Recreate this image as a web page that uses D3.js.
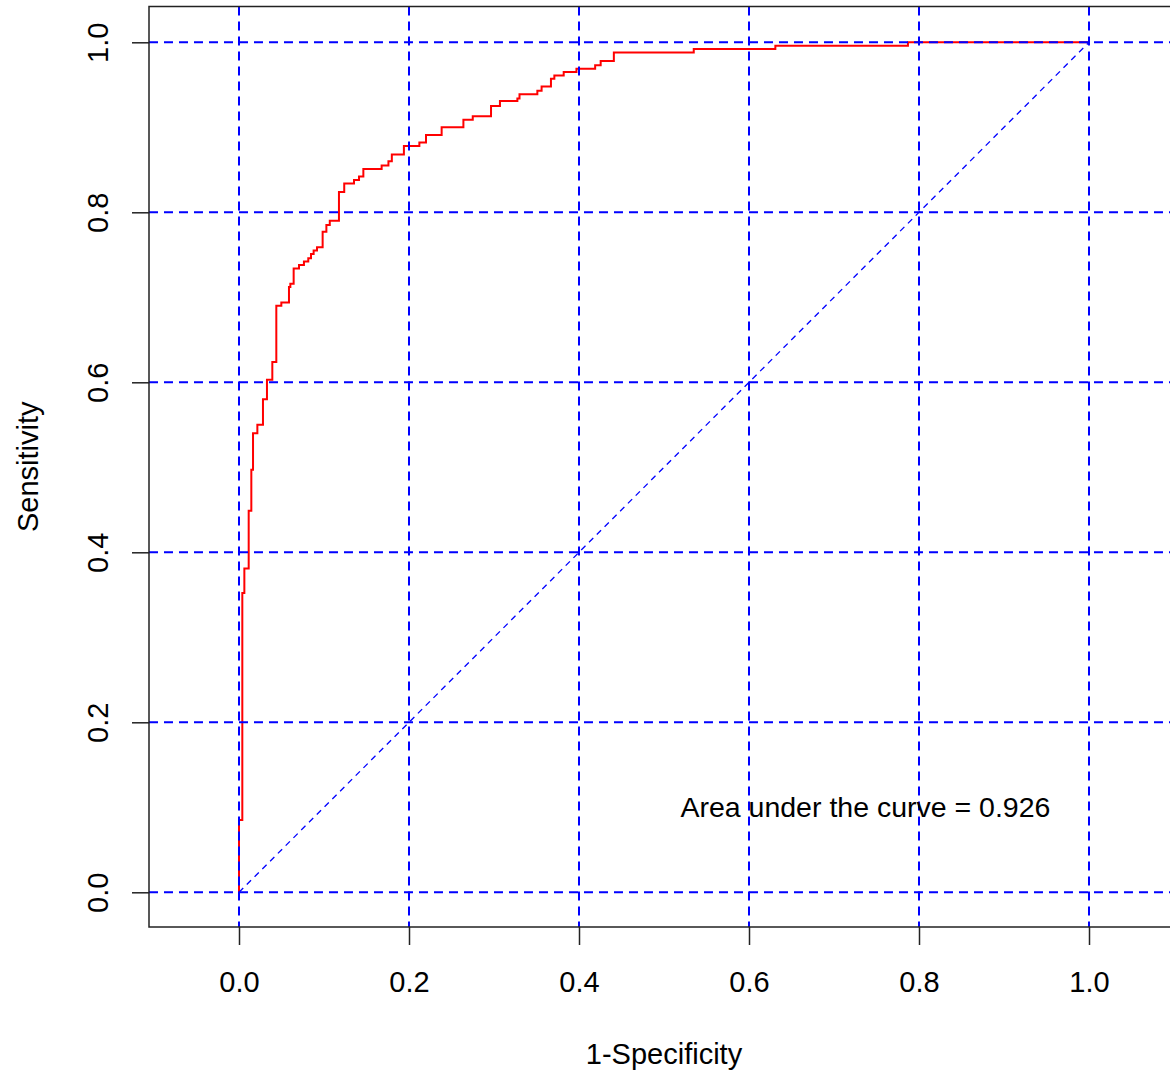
<!DOCTYPE html>
<html>
<head>
<meta charset="utf-8">
<script src="https://cdn.jsdelivr.net/npm/d3@7/dist/d3.min.js"></script>
<style>
  body { margin: 0; background: #fff; }
  svg text { font-family: "Liberation Sans", Arial, sans-serif; fill: #000; }
</style>
</head>
<body>
<div id="chart"></div>
<script>
// ROC points (1-specificity, sensitivity)
var fpr = [0, 0, 0.0039, 0.0063, 0.0114, 0.0145, 0.0165, 0.0216, 0.0282, 0.0329, 0.0392, 0.0439, 0.0498, 0.0588,
           0.0604, 0.0643, 0.0706, 0.0764, 0.0815, 0.0847, 0.0878, 0.0918, 0.0984, 0.1028, 0.1068, 0.1176, 0.1238,
           0.1353, 0.1412, 0.1463, 0.1678, 0.1758, 0.1798, 0.194, 0.2122, 0.22, 0.2384, 0.264, 0.275, 0.2965, 0.307,
           0.3275, 0.33, 0.351, 0.356, 0.367, 0.371, 0.382, 0.397, 0.419, 0.4255, 0.441, 0.535, 0.631, 0.787, 1.0];
var tpr = [0, 0.085, 0.352, 0.381, 0.449, 0.497, 0.540, 0.550, 0.580, 0.603, 0.624, 0.690, 0.694, 0.712,
           0.716, 0.734, 0.738, 0.742, 0.746, 0.751, 0.755, 0.759, 0.777, 0.785, 0.790, 0.824, 0.834,
           0.838, 0.842, 0.851, 0.855, 0.860, 0.868, 0.878, 0.882, 0.891, 0.900, 0.909, 0.913, 0.925, 0.931,
           0.934, 0.939, 0.943, 0.948, 0.957, 0.961, 0.965, 0.969, 0.973, 0.978, 0.988, 0.992, 0.996, 1.0, 1.0];
var ticks = [0, 0.2, 0.4, 0.6, 0.8, 1.0];
var aucLabel = "Area under the curve = 0.926";
var xTitle = "1-Specificity",
    yTitle = "Sensitivity";

var width = 1170, height = 1074;
var box = {left: 149, top: 6.5, right: 1179, bottom: 927};

var x = d3.scaleLinear().domain([0, 1]).range([239, 1089]);
var y = d3.scaleLinear().domain([0, 1]).range([892.3, 42.3]);

var svg = d3.select("#chart").append("svg")
    .attr("width", width)
    .attr("height", height)
    .style("display", "block");

svg.append("rect").attr("width", width).attr("height", height).attr("fill", "#fff");

var points = fpr.map(function(d, i) { return [d, tpr[i]]; });

var line = d3.line()
    .x(function(d) { return x(d[0]); })
    .y(function(d) { return y(d[1]); })
    .curve(d3.curveStepAfter);

// curve first, grid goes over it
svg.append("path")
    .datum(points)
    .attr("d", line)
    .attr("fill", "none")
    .attr("stroke", "#ff0000")
    .attr("stroke-width", 2);

svg.append("g").selectAll("line.h")
    .data(ticks)
    .enter().append("line")
    .attr("x1", box.left).attr("x2", box.right)
    .attr("y1", function(d) { return y(d); })
    .attr("y2", function(d) { return y(d); })
    .attr("stroke", "#0000ff")
    .attr("stroke-width", 2)
    .attr("stroke-dasharray", "9,6");

svg.append("g").selectAll("line.v")
    .data(ticks)
    .enter().append("line")
    .attr("y1", box.top).attr("y2", box.bottom)
    .attr("x1", function(d) { return x(d); })
    .attr("x2", function(d) { return x(d); })
    .attr("stroke", "#0000ff")
    .attr("stroke-width", 2)
    .attr("stroke-dasharray", "9,6");

// chance line
svg.append("line")
    .attr("x1", x(0)).attr("y1", y(0))
    .attr("x2", x(1)).attr("y2", y(1))
    .attr("stroke", "#0000ff")
    .attr("stroke-width", 1.3)
    .attr("stroke-dasharray", "6,5");

svg.append("rect")
    .attr("x", box.left).attr("y", box.top)
    .attr("width", box.right - box.left)
    .attr("height", box.bottom - box.top)
    .attr("fill", "none")
    .attr("stroke", "#222")
    .attr("stroke-width", 1.5);

var xAxis = svg.append("g")
    .attr("transform", "translate(0," + box.bottom + ")")
    .call(d3.axisBottom(x).tickValues(ticks).tickSize(18).tickFormat(d3.format(".1f")));
xAxis.select(".domain").remove();
xAxis.selectAll(".tick line").attr("stroke", "#222").attr("stroke-width", 1.5);
xAxis.selectAll(".tick text")
    .attr("y", 65).attr("dy", 0)
    .style("font-size", "29px");

var yAxis = svg.append("g")
    .attr("transform", "translate(" + box.left + ",0)")
    .call(d3.axisLeft(y).tickValues(ticks).tickSize(17).tickFormat(d3.format(".1f")));
yAxis.select(".domain").remove();
yAxis.selectAll(".tick line").attr("stroke", "#222").attr("stroke-width", 1.5);
yAxis.selectAll(".tick text")
    .attr("transform", "rotate(-90)")
    .attr("x", 0).attr("y", -41).attr("dy", 0)
    .attr("text-anchor", "middle")
    .style("font-size", "29px");

svg.append("text")
    .attr("x", x(0.737)).attr("y", y(0.1))
    .attr("dy", "0.35em")
    .attr("text-anchor", "middle")
    .style("font-size", "28.5px")
    .text(aucLabel);

svg.append("text")
    .attr("x", (box.left + box.right) / 2).attr("y", 1064)
    .attr("text-anchor", "middle")
    .style("font-size", "29px")
    .text(xTitle);

svg.append("text")
    .attr("transform", "translate(38," + (box.top + box.bottom) / 2 + ") rotate(-90)")
    .attr("text-anchor", "middle")
    .style("font-size", "29px")
    .text(yTitle);
</script>
</body>
</html>
